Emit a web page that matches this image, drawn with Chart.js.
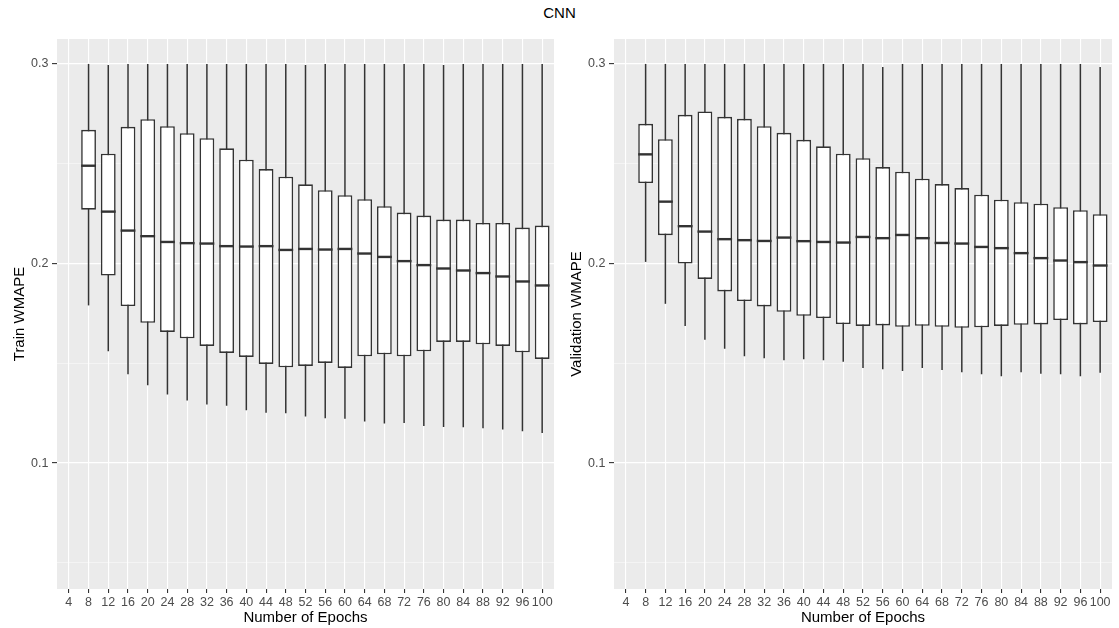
<!DOCTYPE html>
<html>
<head>
<meta charset="utf-8">
<script src="https://cdn.jsdelivr.net/npm/chart.js@4/dist/chart.umd.min.js"></script>
<style>
  html, body { margin: 0; padding: 0; background: #ffffff; }
  body { width: 1119px; height: 628px; position: relative; overflow: hidden; font-family: "Liberation Sans", Arial, sans-serif; }
  #title { position: absolute; left: 0; width: 1119px; top: 4px; text-align: center; font-size: 15px; color: #000; line-height: 18px; }
  .panel { position: absolute; top: 0; height: 628px; }
  #trainWrap { left: 0; width: 560px; }
  #valWrap { left: 560px; width: 559px; }
</style>
</head>
<body>
<div id="title">CNN</div>
<div class="panel" id="trainWrap"><canvas id="train"></canvas></div>
<div class="panel" id="valWrap"><canvas id="val"></canvas></div>
<script>
// Number of training epochs (x categories); epoch 4 has no runs
const epochs = [4, 8, 12, 16, 20, 24, 28, 32, 36, 40, 44, 48, 52, 56, 60, 64, 68, 72, 76, 80, 84, 88, 92, 96, 100];
const yTicks = [0.05, 0.1, 0.15, 0.2, 0.25, 0.3];

// Train WMAPE box statistics per epoch (null = no data)
const trainLow  = [null, 0.179, 0.156, 0.1445, 0.139, 0.1343, 0.1313, 0.1293, 0.1287, 0.1265, 0.1252, 0.125, 0.1233, 0.1225, 0.1222, 0.1208, 0.1198, 0.1201, 0.1186, 0.1181, 0.118, 0.1175, 0.1168, 0.116, 0.1151];
const trainQ1   = [null, 0.227, 0.194, 0.1787, 0.1703, 0.1657, 0.1625, 0.1587, 0.1552, 0.1532, 0.1497, 0.148, 0.1487, 0.1502, 0.1477, 0.1535, 0.1545, 0.1535, 0.156, 0.1607, 0.1607, 0.1595, 0.1587, 0.1555, 0.1522];
const trainMed  = [null, 0.249, 0.226, 0.2165, 0.2137, 0.2108, 0.2102, 0.21, 0.2087, 0.2085, 0.2087, 0.2068, 0.2073, 0.207, 0.2073, 0.205, 0.2033, 0.2012, 0.1992, 0.1975, 0.1965, 0.1952, 0.1935, 0.191, 0.189];
const trainQ3   = [null, 0.267, 0.255, 0.2685, 0.2723, 0.2688, 0.2653, 0.2628, 0.2577, 0.252, 0.2473, 0.2435, 0.2397, 0.2367, 0.2342, 0.2322, 0.2287, 0.2255, 0.224, 0.222, 0.222, 0.2203, 0.2203, 0.218, 0.219];
const trainHigh = [null, 0.3, 0.2995, 0.3, 0.3, 0.3, 0.3, 0.3, 0.3, 0.3, 0.3, 0.3, 0.2995, 0.3, 0.3, 0.3, 0.3, 0.3, 0.3, 0.2995, 0.3, 0.3, 0.3, 0.3, 0.3];

// Validation WMAPE box statistics per epoch
const valLow  = [null, 0.2008, 0.1798, 0.1687, 0.1618, 0.1573, 0.1535, 0.1525, 0.1515, 0.152, 0.1515, 0.1508, 0.1477, 0.147, 0.1462, 0.1477, 0.1467, 0.1455, 0.1445, 0.1435, 0.1455, 0.1448, 0.1445, 0.1435, 0.1452];
const valQ1   = [null, 0.2403, 0.2142, 0.2, 0.1923, 0.186, 0.1812, 0.1785, 0.1758, 0.1738, 0.1727, 0.1697, 0.1687, 0.169, 0.1683, 0.1688, 0.1683, 0.1678, 0.168, 0.1687, 0.1693, 0.1695, 0.1717, 0.1695, 0.1707];
const valMed  = [null, 0.2547, 0.231, 0.2187, 0.216, 0.2122, 0.2117, 0.2113, 0.213, 0.2112, 0.2108, 0.2105, 0.2133, 0.2127, 0.2143, 0.2127, 0.2103, 0.21, 0.2083, 0.2077, 0.2052, 0.2027, 0.2015, 0.2007, 0.199];
const valQ3   = [null, 0.27, 0.2623, 0.2745, 0.2762, 0.2735, 0.2725, 0.2688, 0.2655, 0.262, 0.2587, 0.255, 0.2528, 0.2483, 0.246, 0.2425, 0.2398, 0.2378, 0.2345, 0.232, 0.2307, 0.23, 0.2282, 0.2267, 0.2247];
const valHigh = [null, 0.3, 0.3, 0.3, 0.3, 0.3, 0.3, 0.3, 0.3, 0.3, 0.3, 0.3, 0.3, 0.2985, 0.3, 0.3, 0.3, 0.3, 0.3, 0.3, 0.3, 0.3, 0.3, 0.3, 0.2985];

const INK = '#333333';
const FONT = '"Liberation Sans", Arial, sans-serif';

// grey panel behind the grid
const panelBackground = {
  id: 'panelBackground',
  beforeDraw(chart) {
    const {ctx, chartArea: a} = chart;
    ctx.save();
    ctx.fillStyle = '#EBEBEB';
    ctx.fillRect(a.left, a.top, a.right - a.left, a.bottom - a.top);
    ctx.restore();
  }
};

const isMajor = v => Math.abs(v * 10 - Math.round(v * 10)) < 1e-6;

function points(values) {
  return epochs.map((e, i) => (values[i] === null ? null : {x: e, y: values[i]})).filter(Boolean);
}
function ranges(lo, hi) {
  return epochs.map((e, i) => (lo[i] === null ? null : {x: e, y: [lo[i], hi[i]]})).filter(Boolean);
}
function halfBox(chart) {
  const x = chart.scales.x;
  return Math.abs(x.getPixelForValue(epochs[1]) - x.getPixelForValue(epochs[0])) * 0.375;
}

function makePanel(canvasId, yTitle, low, q1, med, q3, high, yAxisWidth, titlePad, rightPad) {
  return new Chart(document.getElementById(canvasId), {
    type: 'bar',
    data: {
      datasets: [
        {
          // whiskers
          type: 'bar',
          data: ranges(low, high),
          backgroundColor: INK,
          borderWidth: 0,
          barThickness: 1.5,
          inflateAmount: 0,
          grouped: false,
          order: 3
        },
        {
          // interquartile boxes
          type: 'bar',
          data: ranges(q1, q3),
          backgroundColor: '#FFFFFF',
          borderColor: INK,
          borderWidth: 1.6,
          borderSkipped: false,
          barPercentage: 0.75,
          categoryPercentage: 1,
          inflateAmount: 0,
          grouped: false,
          order: 2
        },
        {
          // medians
          type: 'line',
          data: points(med),
          showLine: false,
          pointStyle: 'line',
          pointRadius: ctx => halfBox(ctx.chart),
          pointBorderColor: INK,
          pointBorderWidth: 2.4,
          order: 1
        }
      ]
    },
    plugins: [panelBackground],
    options: {
      responsive: false,
      animation: false,
      events: [],
      layout: { padding: { top: 39, right: rightPad, left: 0, bottom: 0 } },
      plugins: { legend: { display: false }, tooltip: { enabled: false }, title: { display: false } },
      scales: {
        x: {
          type: 'linear',
          offset: false,
          min: 1.6,
          max: 102.4,
          afterBuildTicks: axis => { axis.ticks = epochs.map(v => ({value: v})); },
          afterFit: scale => { scale.height = 39; },
          border: { display: false },
          grid: { offset: false, color: '#FFFFFF', lineWidth: 1.1, tickColor: INK, tickLength: 4, tickWidth: 1.1 },
          ticks: {
            autoSkip: false, maxRotation: 0, padding: 2,
            color: '#4D4D4D', font: { family: FONT, size: 12.5 },
            callback: v => String(v)
          },
          title: {
            display: true, text: 'Number of Epochs', color: '#000000',
            font: { family: FONT, size: 15 }, padding: { top: 0, bottom: 1 }
          }
        },
        y: {
          type: 'linear',
          min: 0.0369,
          max: 0.3125,
          afterBuildTicks: axis => { axis.ticks = yTicks.map(v => ({value: v})); },
          afterFit: scale => { scale.width = yAxisWidth; },
          border: { display: false },
          grid: {
            color: ctx => isMajor(ctx.tick.value) ? '#FFFFFF' : 'rgba(255,255,255,0.75)',
            lineWidth: ctx => isMajor(ctx.tick.value) ? 1.2 : 0.6,
            tickColor: ctx => isMajor(ctx.tick.value) ? INK : 'rgba(0,0,0,0)',
            tickLength: 5,
            tickWidth: 1.1
          },
          ticks: {
            padding: 3.5,
            color: '#4D4D4D', font: { family: FONT, size: 12.5 },
            callback: v => isMajor(v) ? v.toFixed(1) : ''
          },
          title: {
            display: true, text: yTitle, color: '#000000',
            font: { family: FONT, size: 15 }, padding: { top: titlePad, bottom: 0 }
          }
        }
      }
    }
  });
}

const trainCanvas = document.getElementById('train');
trainCanvas.width = 560; trainCanvas.height = 628;
const valCanvas = document.getElementById('val');
valCanvas.width = 559; valCanvas.height = 628;

makePanel('train', 'Train WMAPE', trainLow, trainQ1, trainMed, trainQ3, trainHigh, 57, 11, 6);
makePanel('val', 'Validation WMAPE', valLow, valQ1, valMed, valQ3, valHigh, 54, 8, 7);
</script>
</body>
</html>
